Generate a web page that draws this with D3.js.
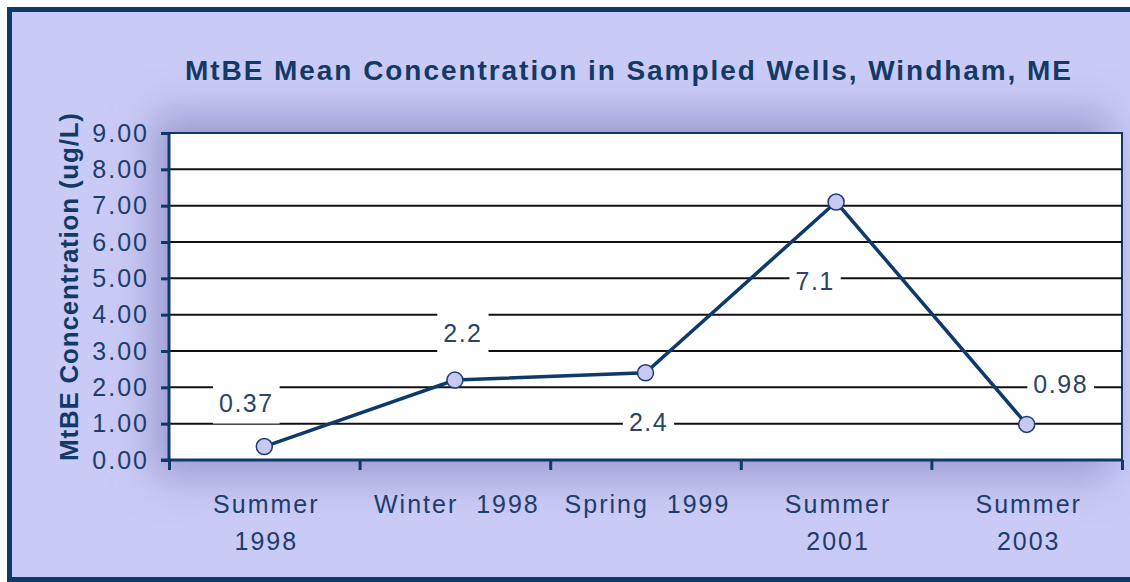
<!DOCTYPE html>
<html>
<head>
<meta charset="utf-8">
<script src="https://cdn.jsdelivr.net/npm/d3@7"></script>
<style>
  body { margin: 0; background: #fff; }
  svg { display: block; }
  .y.axis text { font-family: "Liberation Sans", Arial, sans-serif; font-size: 25px; letter-spacing: 2px; fill: #1d3d6c; }
  .axis path, .axis line { stroke: #0d3a6b; stroke-width: 3; }
  .grid line { stroke: #111; stroke-width: 2; }
  .xlabel { font-family: "Liberation Sans", Arial, sans-serif; font-size: 25px; letter-spacing: 2px; fill: #1d3d6c; white-space: pre; }
  .dlabel { font-family: "Liberation Sans", Arial, sans-serif; font-size: 25px; letter-spacing: 1.5px; fill: #2b4566; }
</style>
</head>
<body>
<div id="chart"></div>
<script>
// data
var categories = ["Summer 1998", "Winter  1998", "Spring  1999", "Summer 2001", "Summer 2003"];
var categoryLines = [["Summer", "1998"], ["Winter  1998"], ["Spring  1999"], ["Summer", "2001"], ["Summer", "2003"]];
var values = [0.37, 2.2, 2.4, 7.1, 0.98];
var valueLabels = ["0.37", "2.2", "2.4", "7.1", "0.98"];
var yTicks = [0, 1, 2, 3, 4, 5, 6, 7, 8, 9];

// where each data label sits relative to its point (px)
var labelOffsets = [[-18, -44], [8, -47], [3, 49], [-21, 79], [34, -40]];

var width = 1130, height = 582;
var margin = {top: 133, right: 8, bottom: 122, left: 169};
var chartWidth = width - margin.left - margin.right;
var chartHeight = height - margin.top - margin.bottom;

var svg = d3.select("#chart").append("svg")
    .attr("width", width)
    .attr("height", height);

var defs = svg.append("defs");
defs.append("filter")
    .attr("id", "soft")
    .attr("x", "-30%").attr("y", "-50%")
    .attr("width", "160%").attr("height", "200%")
  .append("feGaussianBlur")
    .attr("stdDeviation", 20);

// frame background
svg.append("rect")
    .attr("x", 9.5).attr("y", 9.5)
    .attr("width", width + 20).attr("height", 570)
    .attr("fill", "#cacaf6")
    .attr("stroke", "#0d3a6b")
    .attr("stroke-width", 5);

// soft shadow round the plot area
svg.append("rect")
    .attr("x", margin.left - 16).attr("y", margin.top - 18)
    .attr("width", chartWidth + 4).attr("height", chartHeight + 34)
    .attr("fill", "#9a9ad0")
    .attr("filter", "url(#soft)");

svg.append("text")
    .attr("x", 628).attr("y", 80)
    .attr("text-anchor", "middle")
    .attr("textLength", 886)
    .attr("lengthAdjust", "spacing")
    .style("font-family", '"Liberation Sans", Arial, sans-serif')
    .style("font-size", "28px")
    .style("font-weight", "bold")
    .style("fill", "#133a66")
    .text("MtBE Mean Concentration in Sampled Wells, Windham, ME");

svg.append("text")
    .attr("transform", "translate(78, 287) rotate(-90)")
    .attr("text-anchor", "middle")
    .attr("textLength", 348)
    .attr("lengthAdjust", "spacing")
    .style("font-family", '"Liberation Sans", Arial, sans-serif')
    .style("font-size", "26px")
    .style("font-weight", "bold")
    .style("fill", "#133a66")
    .text("MtBE Concentration (ug/L)");

var g = svg.append("g")
    .attr("transform", `translate(${margin.left}, ${margin.top})`);

var xScale = d3.scaleBand()
    .domain(categories)
    .range([0, chartWidth])
    .padding(0);

var xEdge = d3.scaleLinear()
    .domain([0, categories.length])
    .range([0, chartWidth]);

var yScale = d3.scaleLinear()
    .domain([0, 9])
    .range([chartHeight, 0]);

g.append("rect")
    .attr("width", chartWidth)
    .attr("height", chartHeight)
    .attr("fill", "#fff")
    .attr("stroke", "#0d3a6b")
    .attr("stroke-width", 2);

g.append("g")
    .attr("class", "grid")
    .selectAll("line")
    .data(yTicks.filter(d => d > 0 && d < 9))
    .enter().append("line")
    .attr("x1", 0).attr("x2", chartWidth)
    .attr("y1", d => yScale(d)).attr("y2", d => yScale(d));

var x = (d, i) => xScale(categories[i]) + xScale.bandwidth() / 2;

var line = d3.line()
    .x((d, i) => x(d, i))
    .y(d => yScale(d));

g.append("path")
    .datum(values)
    .attr("d", line)
    .attr("fill", "none")
    .attr("stroke", "#0d3a6b")
    .attr("stroke-width", 3.5);

g.selectAll(".dot")
    .data(values)
    .enter().append("circle")
    .attr("class", "dot")
    .attr("cx", (d, i) => x(d, i))
    .attr("cy", d => yScale(d))
    .attr("r", 8)
    .attr("fill", "#c8c8f4")
    .attr("stroke", "#1d3d6c")
    .attr("stroke-width", 1.5);

// data labels on white boxes
var labels = g.selectAll(".dlab")
    .data(values)
    .enter().append("g")
    .attr("class", "dlab")
    .attr("transform", (d, i) => `translate(${x(d, i) + labelOffsets[i][0]}, ${yScale(d) + labelOffsets[i][1]})`);

labels.append("text")
    .attr("class", "dlabel")
    .attr("text-anchor", "middle")
    .attr("dy", "0.36em")
    .text((d, i) => valueLabels[i]);

labels.each(function() {
  var t = d3.select(this).select("text");
  var b = t.node().getBBox();
  d3.select(this).insert("rect", "text")
      .attr("x", b.x - 6).attr("y", -21)
      .attr("width", b.width + 12).attr("height", 42)
      .attr("fill", "#fff");
});

var yAxis = d3.axisLeft(yScale)
    .tickValues(yTicks)
    .tickFormat(d3.format(".2f"))
    .tickSize(8)
    .tickPadding(12);

g.append("g")
    .attr("class", "y axis")
    .call(yAxis)
    .call(a => a.select(".domain").attr("d", `M0,${chartHeight + 1}V0`));

var xAxis = d3.axisBottom(xEdge)
    .ticks(categories.length)
    .tickFormat("")
    .tickSize(10);

g.append("g")
    .attr("class", "x axis")
    .attr("transform", `translate(0, ${chartHeight})`)
    .call(xAxis)
    .call(a => a.select(".domain").attr("d", `M-8,0H${chartWidth}`));

var xl = g.selectAll(".xlabel")
    .data(categoryLines)
    .enter().append("text")
    .attr("class", "xlabel")
    .attr("xml:space", "preserve")
    .attr("text-anchor", "middle")
    .attr("transform", (d, i) => `translate(${x(d, i) + 2}, ${chartHeight + 53})`);

xl.selectAll("tspan")
    .data(d => d)
    .enter().append("tspan")
    .attr("x", 0)
    .attr("dy", (d, i) => i === 0 ? 0 : 37)
    .text(d => d);
</script>
</body>
</html>
